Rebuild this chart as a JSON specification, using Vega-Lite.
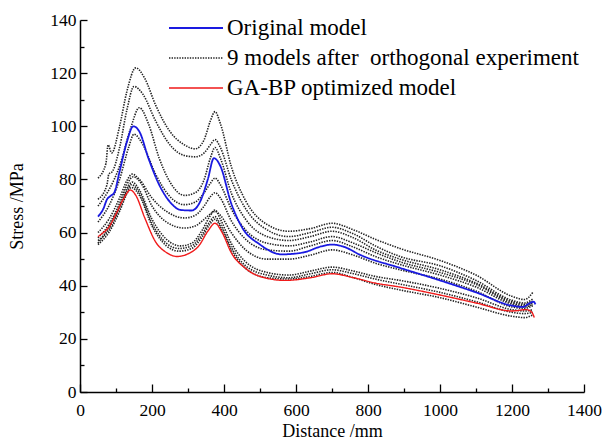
{
 "$schema": "https://vega.github.io/schema/vega-lite/v6.json",
 "width": 504, "height": 372,
 "autosize": "none",
 "padding": {"left": 80, "top": 20, "right": 19, "bottom": 51},
 "background": "white",
 "config": {"view": {"stroke": null}, "font": "Liberation Serif, Times New Roman, serif",
  "axis": {"labelFont": "Liberation Serif, Times New Roman, serif", "titleFont": "Liberation Serif, Times New Roman, serif"},
  "legend": {"labelFont": "Liberation Serif, Times New Roman, serif"}},
 "data": {"values": [
{"m":"D1","g":"N","x":50,"y":80.5},{"m":"D1","g":"N","x":72,"y":86},{"m":"D1","g":"N","x":78,"y":93},{"m":"D1","g":"N","x":88,"y":90},{"m":"D1","g":"N","x":110,"y":100},{"m":"D1","g":"N","x":130,"y":113},{"m":"D1","g":"N","x":155,"y":122},{"m":"D1","g":"N","x":180,"y":118},{"m":"D1","g":"N","x":210,"y":108},{"m":"D1","g":"N","x":250,"y":98},{"m":"D1","g":"N","x":290,"y":93},{"m":"D1","g":"N","x":320,"y":91.5},{"m":"D1","g":"N","x":345,"y":95},{"m":"D1","g":"N","x":362,"y":102},{"m":"D1","g":"N","x":375,"y":105.5},{"m":"D1","g":"N","x":390,"y":101},{"m":"D1","g":"N","x":420,"y":85},{"m":"D1","g":"N","x":460,"y":72},{"m":"D1","g":"N","x":520,"y":63},{"m":"D1","g":"N","x":580,"y":60.5},{"m":"D1","g":"N","x":640,"y":61.5},{"m":"D1","g":"N","x":700,"y":63.5},{"m":"D1","g":"N","x":760,"y":61},{"m":"D1","g":"N","x":820,"y":57.5},{"m":"D1","g":"N","x":889,"y":54},{"m":"D1","g":"N","x":1000,"y":49.5},{"m":"D1","g":"N","x":1100,"y":44},{"m":"D1","g":"N","x":1200,"y":36},{"m":"D1","g":"N","x":1235,"y":34.8},{"m":"D1","g":"N","x":1258,"y":37.5},
{"m":"D2","g":"N","x":50,"y":72.5},{"m":"D2","g":"N","x":75,"y":78},{"m":"D2","g":"N","x":80,"y":82},{"m":"D2","g":"N","x":90,"y":83},{"m":"D2","g":"N","x":110,"y":92},{"m":"D2","g":"N","x":130,"y":106},{"m":"D2","g":"N","x":150,"y":115},{"m":"D2","g":"N","x":175,"y":112},{"m":"D2","g":"N","x":210,"y":102},{"m":"D2","g":"N","x":250,"y":93},{"m":"D2","g":"N","x":290,"y":89},{"m":"D2","g":"N","x":320,"y":88.5},{"m":"D2","g":"N","x":345,"y":90},{"m":"D2","g":"N","x":362,"y":93},{"m":"D2","g":"N","x":375,"y":95},{"m":"D2","g":"N","x":390,"y":92},{"m":"D2","g":"N","x":420,"y":80},{"m":"D2","g":"N","x":460,"y":69},{"m":"D2","g":"N","x":520,"y":61},{"m":"D2","g":"N","x":580,"y":58.5},{"m":"D2","g":"N","x":640,"y":60},{"m":"D2","g":"N","x":700,"y":62},{"m":"D2","g":"N","x":760,"y":59.5},{"m":"D2","g":"N","x":820,"y":55},{"m":"D2","g":"N","x":889,"y":51},{"m":"D2","g":"N","x":1000,"y":47.5},{"m":"D2","g":"N","x":1100,"y":42},{"m":"D2","g":"N","x":1200,"y":34.5},{"m":"D2","g":"N","x":1235,"y":33.5},{"m":"D2","g":"N","x":1258,"y":35},
{"m":"D3","g":"N","x":50,"y":70},{"m":"D3","g":"N","x":80,"y":76},{"m":"D3","g":"N","x":110,"y":85},{"m":"D3","g":"N","x":140,"y":99},{"m":"D3","g":"N","x":165,"y":107},{"m":"D3","g":"N","x":190,"y":101},{"m":"D3","g":"N","x":220,"y":88},{"m":"D3","g":"N","x":250,"y":79},{"m":"D3","g":"N","x":290,"y":74},{"m":"D3","g":"N","x":320,"y":75},{"m":"D3","g":"N","x":345,"y":80},{"m":"D3","g":"N","x":362,"y":88},{"m":"D3","g":"N","x":375,"y":92},{"m":"D3","g":"N","x":390,"y":88},{"m":"D3","g":"N","x":420,"y":75},{"m":"D3","g":"N","x":460,"y":65},{"m":"D3","g":"N","x":520,"y":58.5},{"m":"D3","g":"N","x":580,"y":57},{"m":"D3","g":"N","x":640,"y":58.5},{"m":"D3","g":"N","x":700,"y":60.5},{"m":"D3","g":"N","x":760,"y":58},{"m":"D3","g":"N","x":820,"y":53.5},{"m":"D3","g":"N","x":889,"y":50},{"m":"D3","g":"N","x":1000,"y":46},{"m":"D3","g":"N","x":1100,"y":41},{"m":"D3","g":"N","x":1200,"y":34},{"m":"D3","g":"N","x":1235,"y":33},{"m":"D3","g":"N","x":1258,"y":34},
{"m":"D4","g":"N","x":50,"y":64},{"m":"D4","g":"N","x":80,"y":70},{"m":"D4","g":"N","x":110,"y":80},{"m":"D4","g":"N","x":135,"y":92},{"m":"D4","g":"N","x":150,"y":97},{"m":"D4","g":"N","x":175,"y":93},{"m":"D4","g":"N","x":210,"y":82},{"m":"D4","g":"N","x":250,"y":73.5},{"m":"D4","g":"N","x":290,"y":70.5},{"m":"D4","g":"N","x":320,"y":71.5},{"m":"D4","g":"N","x":345,"y":75},{"m":"D4","g":"N","x":362,"y":78.5},{"m":"D4","g":"N","x":375,"y":80.5},{"m":"D4","g":"N","x":390,"y":78},{"m":"D4","g":"N","x":420,"y":69},{"m":"D4","g":"N","x":460,"y":61},{"m":"D4","g":"N","x":520,"y":56},{"m":"D4","g":"N","x":580,"y":55},{"m":"D4","g":"N","x":640,"y":56.5},{"m":"D4","g":"N","x":700,"y":58.5},{"m":"D4","g":"N","x":760,"y":56},{"m":"D4","g":"N","x":820,"y":52.5},{"m":"D4","g":"N","x":889,"y":49},{"m":"D4","g":"N","x":1000,"y":45},{"m":"D4","g":"N","x":1100,"y":40.5},{"m":"D4","g":"N","x":1200,"y":33.5},{"m":"D4","g":"N","x":1235,"y":32.5},{"m":"D4","g":"N","x":1258,"y":33.5},
{"m":"D5","g":"N","x":50,"y":60},{"m":"D5","g":"N","x":80,"y":65},{"m":"D5","g":"N","x":110,"y":73},{"m":"D5","g":"N","x":130,"y":79.5},{"m":"D5","g":"N","x":145,"y":82},{"m":"D5","g":"N","x":165,"y":80},{"m":"D5","g":"N","x":200,"y":73},{"m":"D5","g":"N","x":240,"y":68},{"m":"D5","g":"N","x":290,"y":65.5},{"m":"D5","g":"N","x":320,"y":66.5},{"m":"D5","g":"N","x":345,"y":70},{"m":"D5","g":"N","x":362,"y":73.5},{"m":"D5","g":"N","x":375,"y":75},{"m":"D5","g":"N","x":390,"y":73},{"m":"D5","g":"N","x":420,"y":64.5},{"m":"D5","g":"N","x":460,"y":57.5},{"m":"D5","g":"N","x":520,"y":53.5},{"m":"D5","g":"N","x":580,"y":53},{"m":"D5","g":"N","x":640,"y":55},{"m":"D5","g":"N","x":700,"y":57},{"m":"D5","g":"N","x":760,"y":54.5},{"m":"D5","g":"N","x":820,"y":51},{"m":"D5","g":"N","x":889,"y":48},{"m":"D5","g":"N","x":1000,"y":44},{"m":"D5","g":"N","x":1100,"y":39.5},{"m":"D5","g":"N","x":1200,"y":33},{"m":"D5","g":"N","x":1235,"y":32},{"m":"D5","g":"N","x":1258,"y":33},
{"m":"D6","g":"N","x":50,"y":58},{"m":"D6","g":"N","x":80,"y":63},{"m":"D6","g":"N","x":110,"y":71},{"m":"D6","g":"N","x":130,"y":78},{"m":"D6","g":"N","x":148,"y":81},{"m":"D6","g":"N","x":170,"y":78.5},{"m":"D6","g":"N","x":200,"y":70},{"m":"D6","g":"N","x":240,"y":64},{"m":"D6","g":"N","x":290,"y":61.7},{"m":"D6","g":"N","x":320,"y":62.5},{"m":"D6","g":"N","x":345,"y":65},{"m":"D6","g":"N","x":362,"y":67},{"m":"D6","g":"N","x":375,"y":68},{"m":"D6","g":"N","x":390,"y":66.5},{"m":"D6","g":"N","x":420,"y":60},{"m":"D6","g":"N","x":460,"y":53.5},{"m":"D6","g":"N","x":520,"y":50},{"m":"D6","g":"N","x":580,"y":50},{"m":"D6","g":"N","x":640,"y":51.5},{"m":"D6","g":"N","x":700,"y":53.5},{"m":"D6","g":"N","x":760,"y":51.5},{"m":"D6","g":"N","x":820,"y":48.5},{"m":"D6","g":"N","x":889,"y":46},{"m":"D6","g":"N","x":1000,"y":42.5},{"m":"D6","g":"N","x":1100,"y":38},{"m":"D6","g":"N","x":1200,"y":32},{"m":"D6","g":"N","x":1235,"y":31.5},{"m":"D6","g":"N","x":1258,"y":32.5},
{"m":"D7","g":"N","x":50,"y":56},{"m":"D7","g":"N","x":80,"y":62},{"m":"D7","g":"N","x":110,"y":70},{"m":"D7","g":"N","x":130,"y":76.5},{"m":"D7","g":"N","x":145,"y":79},{"m":"D7","g":"N","x":165,"y":76},{"m":"D7","g":"N","x":200,"y":65},{"m":"D7","g":"N","x":240,"y":57.5},{"m":"D7","g":"N","x":280,"y":55},{"m":"D7","g":"N","x":310,"y":56},{"m":"D7","g":"N","x":340,"y":61},{"m":"D7","g":"N","x":360,"y":66},{"m":"D7","g":"N","x":375,"y":68.5},{"m":"D7","g":"N","x":390,"y":65},{"m":"D7","g":"N","x":420,"y":56},{"m":"D7","g":"N","x":460,"y":49},{"m":"D7","g":"N","x":520,"y":45},{"m":"D7","g":"N","x":580,"y":44},{"m":"D7","g":"N","x":640,"y":45.5},{"m":"D7","g":"N","x":700,"y":47},{"m":"D7","g":"N","x":760,"y":45.5},{"m":"D7","g":"N","x":820,"y":43.5},{"m":"D7","g":"N","x":889,"y":42},{"m":"D7","g":"N","x":1000,"y":39},{"m":"D7","g":"N","x":1100,"y":35.5},{"m":"D7","g":"N","x":1200,"y":31},{"m":"D7","g":"N","x":1235,"y":30.5},{"m":"D7","g":"N","x":1258,"y":31},
{"m":"D8","g":"N","x":50,"y":57},{"m":"D8","g":"N","x":80,"y":61},{"m":"D8","g":"N","x":110,"y":69},{"m":"D8","g":"N","x":130,"y":75.5},{"m":"D8","g":"N","x":143,"y":78},{"m":"D8","g":"N","x":165,"y":75},{"m":"D8","g":"N","x":200,"y":63.5},{"m":"D8","g":"N","x":240,"y":56},{"m":"D8","g":"N","x":275,"y":54},{"m":"D8","g":"N","x":310,"y":55},{"m":"D8","g":"N","x":340,"y":59.5},{"m":"D8","g":"N","x":360,"y":64},{"m":"D8","g":"N","x":375,"y":66},{"m":"D8","g":"N","x":390,"y":63},{"m":"D8","g":"N","x":420,"y":54.5},{"m":"D8","g":"N","x":460,"y":47.5},{"m":"D8","g":"N","x":520,"y":44},{"m":"D8","g":"N","x":580,"y":43},{"m":"D8","g":"N","x":640,"y":44.5},{"m":"D8","g":"N","x":700,"y":46},{"m":"D8","g":"N","x":760,"y":44.5},{"m":"D8","g":"N","x":820,"y":42.5},{"m":"D8","g":"N","x":889,"y":40.6},{"m":"D8","g":"N","x":1000,"y":37.5},{"m":"D8","g":"N","x":1100,"y":34},{"m":"D8","g":"N","x":1200,"y":30},{"m":"D8","g":"N","x":1235,"y":29.5},{"m":"D8","g":"N","x":1258,"y":30},
{"m":"D9","g":"N","x":50,"y":55.5},{"m":"D9","g":"N","x":80,"y":60},{"m":"D9","g":"N","x":110,"y":68},{"m":"D9","g":"N","x":130,"y":74.5},{"m":"D9","g":"N","x":142,"y":77},{"m":"D9","g":"N","x":165,"y":74},{"m":"D9","g":"N","x":200,"y":62.5},{"m":"D9","g":"N","x":240,"y":55},{"m":"D9","g":"N","x":275,"y":53},{"m":"D9","g":"N","x":310,"y":54},{"m":"D9","g":"N","x":340,"y":58.5},{"m":"D9","g":"N","x":360,"y":63},{"m":"D9","g":"N","x":375,"y":65},{"m":"D9","g":"N","x":390,"y":62},{"m":"D9","g":"N","x":420,"y":53.5},{"m":"D9","g":"N","x":460,"y":46.5},{"m":"D9","g":"N","x":520,"y":43},{"m":"D9","g":"N","x":580,"y":42.5},{"m":"D9","g":"N","x":640,"y":43.5},{"m":"D9","g":"N","x":700,"y":45},{"m":"D9","g":"N","x":760,"y":43},{"m":"D9","g":"N","x":820,"y":40.5},{"m":"D9","g":"N","x":889,"y":38.4},{"m":"D9","g":"N","x":1000,"y":35.5},{"m":"D9","g":"N","x":1100,"y":32},{"m":"D9","g":"N","x":1200,"y":28.5},{"m":"D9","g":"N","x":1235,"y":28},{"m":"D9","g":"N","x":1258,"y":29},
{"m":"B","g":"O","x":50,"y":66},{"m":"B","g":"O","x":65,"y":69},{"m":"B","g":"O","x":75,"y":72.5},{"m":"B","g":"O","x":85,"y":73.8},{"m":"B","g":"O","x":95,"y":75},{"m":"B","g":"O","x":110,"y":83},{"m":"B","g":"O","x":130,"y":94},{"m":"B","g":"O","x":148,"y":100},{"m":"B","g":"O","x":165,"y":98},{"m":"B","g":"O","x":190,"y":88},{"m":"B","g":"O","x":220,"y":78},{"m":"B","g":"O","x":250,"y":71.5},{"m":"B","g":"O","x":280,"y":68.5},{"m":"B","g":"O","x":310,"y":68.3},{"m":"B","g":"O","x":335,"y":72},{"m":"B","g":"O","x":355,"y":80},{"m":"B","g":"O","x":372,"y":88},{"m":"B","g":"O","x":390,"y":85},{"m":"B","g":"O","x":420,"y":71},{"m":"B","g":"O","x":450,"y":62},{"m":"B","g":"O","x":500,"y":55.5},{"m":"B","g":"O","x":560,"y":51.8},{"m":"B","g":"O","x":620,"y":52.5},{"m":"B","g":"O","x":670,"y":54.8},{"m":"B","g":"O","x":700,"y":55.5},{"m":"B","g":"O","x":730,"y":54.8},{"m":"B","g":"O","x":780,"y":51.5},{"m":"B","g":"O","x":889,"y":46.7},{"m":"B","g":"O","x":1000,"y":42},{"m":"B","g":"O","x":1100,"y":37.5},{"m":"B","g":"O","x":1200,"y":32.5},{"m":"B","g":"O","x":1230,"y":32},{"m":"B","g":"O","x":1250,"y":33.5},{"m":"B","g":"O","x":1260,"y":34},{"m":"B","g":"O","x":1265,"y":33},
{"m":"R","g":"G","x":50,"y":58.5},{"m":"R","g":"G","x":65,"y":60},{"m":"R","g":"G","x":80,"y":62},{"m":"R","g":"G","x":100,"y":67},{"m":"R","g":"G","x":120,"y":72.5},{"m":"R","g":"G","x":140,"y":76},{"m":"R","g":"G","x":155,"y":74},{"m":"R","g":"G","x":180,"y":65.5},{"m":"R","g":"G","x":210,"y":56.5},{"m":"R","g":"G","x":240,"y":52.5},{"m":"R","g":"G","x":270,"y":51},{"m":"R","g":"G","x":300,"y":52},{"m":"R","g":"G","x":330,"y":55},{"m":"R","g":"G","x":355,"y":60.5},{"m":"R","g":"G","x":375,"y":63.5},{"m":"R","g":"G","x":395,"y":60},{"m":"R","g":"G","x":420,"y":52.5},{"m":"R","g":"G","x":460,"y":46.5},{"m":"R","g":"G","x":500,"y":43.5},{"m":"R","g":"G","x":570,"y":42},{"m":"R","g":"G","x":640,"y":43},{"m":"R","g":"G","x":700,"y":44.5},{"m":"R","g":"G","x":760,"y":43},{"m":"R","g":"G","x":820,"y":41},{"m":"R","g":"G","x":889,"y":39.5},{"m":"R","g":"G","x":1000,"y":36.5},{"m":"R","g":"G","x":1100,"y":33.5},{"m":"R","g":"G","x":1200,"y":30.5},{"m":"R","g":"G","x":1240,"y":31},{"m":"R","g":"G","x":1255,"y":30},{"m":"R","g":"G","x":1262,"y":28}
 ]},
 "mark": {"type": "line", "interpolate": "monotone"},
 "encoding": {
  "x": {"field": "x", "type": "quantitative",
   "scale": {"domain": [0, 1400], "nice": false},
   "axis": {"title": "Distance /mm", "values": [0,100,200,300,400,500,600,700,800,900,1000,1100,1200,1300,1400],
    "format": "d", "labelExpr": "datum.value % 200 === 0 ? datum.label : ''",
    "tickSize": {"condition": {"test": "datum.value % 200 === 0", "value": -8}, "value": -4},
    "grid": false, "domainColor": "black", "domainWidth": 1.5, "tickColor": "black", "tickWidth": 1.3,
    "labelFontSize": 17.5, "labelColor": "black", "labelPadding": 17,
    "titleFontSize": 18, "titleFontWeight": "normal", "titleColor": "black", "titlePadding": 4, "labelFlush": false}},
  "y": {"field": "y", "type": "quantitative",
   "scale": {"domain": [0, 140], "nice": false},
   "axis": {"title": "Stress /MPa", "values": [0,10,20,30,40,50,60,70,80,90,100,110,120,130,140],
    "labelExpr": "datum.value % 20 === 0 ? datum.label : ''",
    "tickSize": {"condition": {"test": "datum.value % 20 === 0", "value": -7}, "value": -4},
    "grid": false, "domainColor": "black", "domainWidth": 1.5, "tickColor": "black", "tickWidth": 1.3,
    "labelFontSize": 17.5, "labelColor": "black", "labelPadding": 11,
    "titleFontSize": 18, "titleFontWeight": "normal", "titleColor": "black", "titlePadding": 23, "labelFlush": false}},
  "detail": {"field": "m"},
  "color": {"field": "g", "type": "nominal",
   "scale": {"domain": ["O", "N", "G"], "range": ["#1a1ae0", "#222222", "#f01a1a"]},
   "legend": {"title": null, "orient": "none", "legendX": 101.5, "legendY": -6.5, "padding": 0,
    "symbolType": "M-2,0H2", "symbolSize": 729, "symbolStrokeWidth": 1.8,
    "labelFontSize": 23, "labelColor": "black", "labelOffset": 16.5, "rowPadding": 3,
    "labelLimit": 500,
    "labelExpr": "datum.value == 'O' ? 'Original model' : datum.value == 'N' ? '9 models after\u00a0 orthogonal experiment' : 'GA-BP optimized model'"}},
  "strokeDash": {"field": "g", "type": "nominal",
   "scale": {"domain": ["O", "N", "G"], "range": [[1, 0], [1.4, 1.2], [1, 0]]},
   "legend": {"title": null, "orient": "none", "legendX": 101.5, "legendY": -6.5, "padding": 0,
    "symbolType": "M-2,0H2", "symbolSize": 729, "symbolStrokeWidth": 1.8,
    "labelFontSize": 23, "labelColor": "black", "labelOffset": 16.5, "rowPadding": 3,
    "labelLimit": 500,
    "labelExpr": "datum.value == 'O' ? 'Original model' : datum.value == 'N' ? '9 models after\u00a0 orthogonal experiment' : 'GA-BP optimized model'"}},
  "strokeWidth": {"field": "g", "type": "nominal",
   "scale": {"domain": ["O", "N", "G"], "range": [1.8, 1.4, 1.8]}, "legend": null}
 }
}
